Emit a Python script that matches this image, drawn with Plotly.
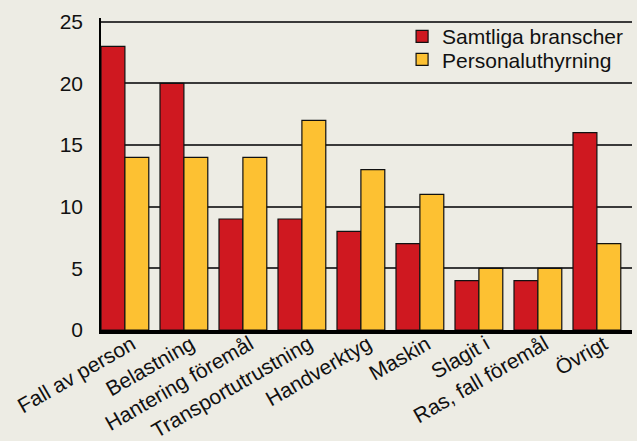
import plotly.graph_objects as go

categories = ["Fall av person", "Belastning", "Hantering föremål", "Transportutrustning",
              "Handverktyg", "Maskin", "Slagit i", "Ras, fall föremål", "Övrigt"]
samtliga = [23, 20, 9, 9, 8, 7, 4, 4, 16]
personal = [14, 14, 14, 17, 13, 11, 5, 5, 7]
y_ticks = [0, 5, 10, 15, 20, 25]

bg = "#EDECE4"
fig = go.Figure()
fig.add_trace(go.Bar(x=categories, y=samtliga, name="Samtliga branscher", legend="legend",
                     marker=dict(color="#CF1820", line=dict(color="#111", width=1.2))))
fig.add_trace(go.Bar(x=categories, y=personal, name="Personaluthyrning", legend="legend2",
                     marker=dict(color="#FDC132", line=dict(color="#111", width=1.2))))

leg_common = dict(x=0.567, xanchor="left", yanchor="top",
                  bgcolor="rgba(0,0,0,0)", font=dict(size=21))
fig.update_layout(
    width=637, height=441,
    paper_bgcolor=bg, plot_bgcolor=bg,
    margin=dict(l=101, r=5, t=18, b=111, autoexpand=False),
    barmode="group", bargap=0.19, bargroupgap=0,
    font=dict(family="Liberation Sans, Arial, sans-serif", size=20, color="#111"),
    legend=dict(y=1.006, **leg_common),
    legend2=dict(y=0.932, **leg_common),
    showlegend=True,
)
fig.update_xaxes(type="category", range=[-0.405, 8.595], tickangle=-30,
                 showline=True, linecolor="#000", linewidth=4, ticks="",
                 automargin=False, ticklabelstandoff=-10, ticklabelshift=7,
                 showgrid=False, tickfont=dict(size=21))
fig.update_yaxes(range=[0, 25.3], tickvals=y_ticks, showgrid=True,
                 gridcolor="#3a3a3a", gridwidth=1.5, zeroline=False,
                 showline=True, linecolor="#000", linewidth=1.5, automargin=False,
                 ticks="", ticklabelstandoff=12, tickfont=dict(size=21))

fig.write_html("out.html", config={"displayModeBar": False},
               post_script="document.body.style.margin='0';document.body.style.overflow='hidden';"
                           "document.body.style.background='#EDECE4';")
